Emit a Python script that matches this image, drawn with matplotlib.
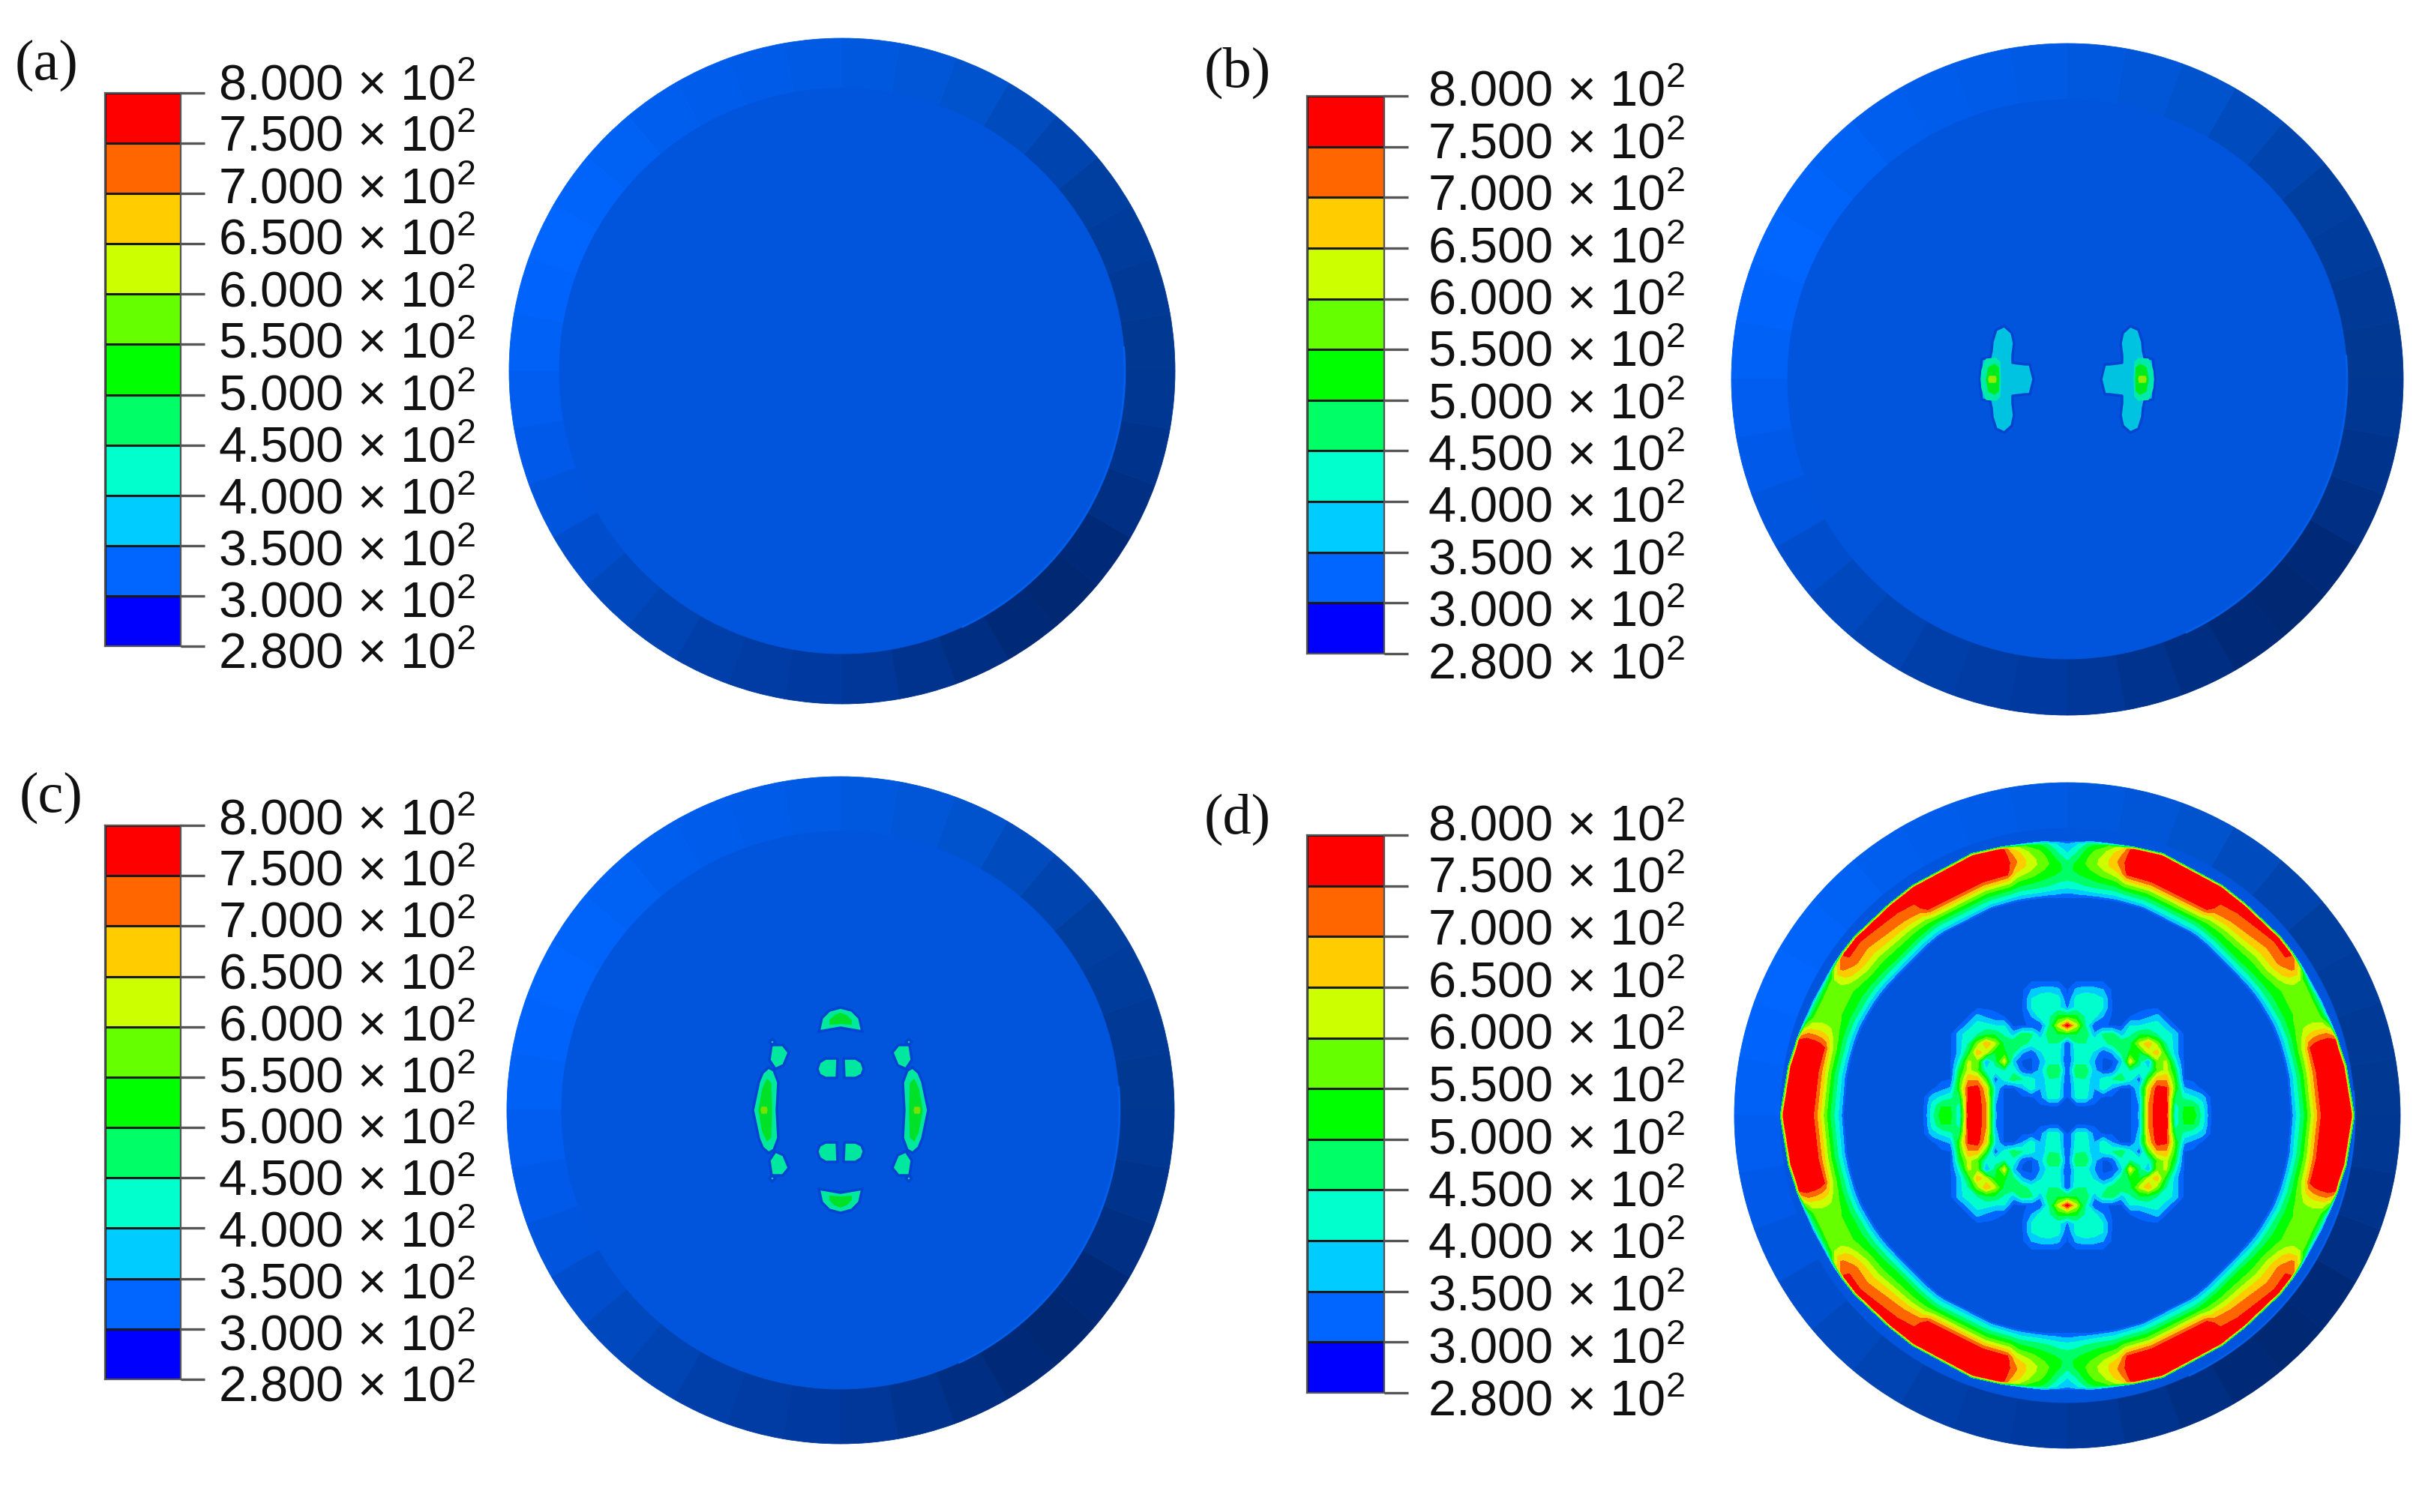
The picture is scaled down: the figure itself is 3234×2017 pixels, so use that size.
import numpy as np
import matplotlib
matplotlib.use("Agg")
import matplotlib.pyplot as plt
from matplotlib.patches import Wedge, Circle, Polygon, Arc

plt.rcParams["mathtext.fontset"] = "custom"
plt.rcParams["mathtext.rm"] = "Liberation Sans"
plt.rcParams["mathtext.default"] = "rm"

W, H = 3234, 2017

#legend
legend_values = ["2.800", "3.000", "3.500", "4.000", "4.500", "5.000",
                 "5.500", "6.000", "6.500", "7.000", "7.500", "8.000"]
legend_colors = ["#0000ff", "#0066ff", "#00ccff", "#00ffcc", "#00ff66", "#00ff00",
                 "#66ff00", "#ccff00", "#ffcc00", "#ff6600", "#ff0000"]
contour_levels = [300, 350, 400, 450, 500, 550, 600, 650, 700, 750, 800]

#panel layout in image pixels
panel_names = ["(a)", "(b)", "(c)", "(d)"]
label_xy = [(20, 87), (1606, 97), (26, 1064), (1606, 1093)]
disc_xy = [(1123, 495), (2757, 506), (1121, 1481), (2757, 1488)]
disc_r = [444, 448, 445, 444]
inner_r = [377, 373, 372, 383]
bar_x = [(140, 241), (1743, 1846), (140, 241), (1743, 1846)]
bar_y = [(124, 862), (128, 872), (1101, 1840), (1114, 1858)]
#the legend texts are spaced a little wider than the ticks
text_x = [291, 1904, 291, 1904]
text_y = [(109, 868), (118, 881), (1089, 1846), (1097, 1864)]

#shaded facets of the outer rim, 10 degrees each, going counter clockwise from east
rim_rgb = [(0, 56, 146), (0, 58, 150), (0, 60, 155), (0, 62, 160), (0, 68, 175), (0, 75, 190),
           (0, 82, 205), (0, 86, 215), (0, 88, 222), (0, 90, 228), (0, 91, 232), (0, 92, 235),
           (0, 94, 238), (0, 97, 245), (0, 100, 250), (0, 102, 255), (0, 100, 252), (0, 97, 246),
           (0, 93, 240), (0, 89, 232), (0, 85, 222), (0, 78, 205), (0, 72, 190), (0, 68, 180),
           (0, 63, 170), (0, 60, 163), (0, 58, 160), (0, 55, 152), (0, 51, 142), (0, 46, 130),
           (0, 42, 120), (0, 40, 115), (0, 42, 120), (0, 47, 132), (0, 52, 140), (0, 55, 146)]
face_rgb = (0, 85, 220)

#panel b, blobs given as upper right quarter (dx, dy)
b_outline = [(45, 0), (50, 20), (56, 20), (73, 22), (73, 32), (71, 48), (74, 62), (84, 71),
             (95, 66), (100, 50), (101, 38), (103, 29), (114, 27), (117, 0)]
b_mid = [(89, 0), (90, 23), (95, 28), (108, 27), (114, 12), (115, 0)]
b_green = [(91, 0), (92, 16), (97, 20), (105, 16), (108, 0)]
b_core = [(95, 0), (96, 4), (104, 4), (105, 0)]

#panel c
c_cap = [(0, 137), (15, 133), (25, 123), (29, 105), (0, 110)]
c_cap_in = [(0, 130), (8, 127), (15, 120), (15, 114), (0, 115)]
c_rect = [(4, 69), (20, 69), (28, 64), (31, 55), (28, 47), (20, 43), (5, 43)]
c_arc = [(85, 0), (83, 37), (89, 53), (96, 57), (104, 50), (109, 38), (114, 14), (117, 0)]
c_arc_in = [(92, 0), (93, 36), (98, 41), (104, 28), (109, 0)]
c_arc_core = [(98, 0), (99, 4), (105, 4), (106, 0)]
c_small = [(69, 77), (77, 87), (92, 87), (95, 67), (87, 55), (76, 60)]
c_dot = [(87, 91), (91, 95), (95, 91), (91, 87)]

#panel d outer band, upper right quarter: rows are angles, columns go from inner to outer edge
band_theta = [0, 10, 14, 15.5, 17, 19, 21, 24, 30, 33, 36, 40, 50, 54, 56, 70, 76, 78, 82, 85, 88, 90]
band_rout = [383, 378, 375, 375, 374, 373, 372, 372, 371, 371, 371, 371, 369, 369, 370, 372, 369, 368, 367, 367, 366, 366]
band_rin = [298, 298, 298, 298, 298, 298, 298, 298, 296, 295, 294, 293, 293, 294, 294, 294, 293, 293, 292, 292, 291, 290]
band_t = [0, .05, .13, .22, .31, .4, .5, .6, .7, .85, .95, 1.0]
band_vals = [
    [290, 370, 430, 500, 590, 680, 770, 790, 790, 790, 770, 450],
    [290, 360, 430, 500, 580, 670, 760, 790, 790, 790, 770, 450],
    [290, 360, 430, 500, 570, 650, 755, 790, 790, 790, 770, 450],
    [290, 360, 430, 500, 570, 645, 755, 785, 790, 790, 770, 450],
    [290, 360, 430, 490, 555, 620, 690, 720, 730, 730, 680, 400],
    [290, 350, 420, 480, 540, 580, 620, 640, 645, 630, 560, 360],
    [290, 350, 420, 480, 530, 560, 585, 590, 590, 570, 480, 340],
    [290, 350, 420, 480, 520, 545, 560, 570, 570, 550, 450, 330],
    [290, 350, 420, 480, 510, 535, 560, 580, 600, 590, 480, 320],
    [290, 350, 420, 480, 520, 550, 590, 640, 680, 710, 640, 360],
    [295, 360, 425, 490, 525, 570, 620, 670, 710, 750, 770, 420],
    [300, 380, 430, 500, 530, 570, 620, 670, 700, 745, 775, 450],
    [300, 370, 430, 500, 540, 590, 650, 700, 730, 765, 790, 450],
    [300, 375, 430, 500, 550, 610, 680, 730, 745, 775, 790, 450],
    [300, 380, 430, 500, 575, 660, 755, 790, 790, 790, 790, 450],
    [300, 380, 440, 510, 585, 680, 770, 790, 790, 790, 790, 450],
    [300, 370, 430, 500, 575, 660, 755, 785, 790, 790, 790, 450],
    [300, 370, 420, 480, 530, 590, 650, 700, 720, 700, 650, 400],
    [300, 360, 420, 470, 510, 550, 590, 620, 620, 590, 530, 360],
    [300, 360, 410, 460, 490, 520, 545, 565, 560, 530, 480, 340],
    [300, 340, 390, 430, 460, 490, 510, 510, 480, 430, 390, 330],
    [300, 320, 380, 420, 450, 470, 480, 470, 430, 380, 350, 320],
]

#panel d centre pattern, upper right quarter, 12 px grid
core_dx = [0, 12, 24, 36, 48, 60, 72, 84, 96, 108, 120, 132, 144, 156, 168, 180, 192]
core_dy = [0, 12, 24, 36, 48, 60, 72, 84, 96, 108, 120, 132, 144, 156, 168, 180]
core_vals = [
    [290, 290, 290, 290, 290, 290, 290, 290, 360, 700, 790, 780, 400, 520, 530, 430, 295],
    [290, 290, 290, 290, 290, 290, 290, 290, 350, 700, 790, 785, 420, 500, 500, 420, 290],
    [290, 410, 420, 330, 290, 290, 290, 290, 370, 680, 790, 770, 480, 440, 410, 380, 290],
    [290, 425, 430, 350, 430, 350, 290, 290, 400, 650, 775, 760, 550, 360, 330, 290, 290],
    [290, 440, 445, 350, 430, 450, 470, 420, 310, 540, 690, 690, 530, 300, 290, 290, 290],
    [300, 490, 490, 370, 290, 310, 440, 450, 430, 410, 560, 620, 490, 290, 290, 290, 290],
    [290, 430, 430, 350, 290, 290, 370, 640, 470, 340, 580, 610, 420, 290, 290, 290, 290],
    [295, 430, 440, 390, 310, 360, 460, 510, 500, 620, 680, 500, 370, 290, 290, 290, 290],
    [290, 445, 450, 450, 430, 470, 500, 480, 610, 690, 580, 450, 380, 290, 290, 290, 290],
    [490, 500, 500, 360, 460, 480, 380, 440, 490, 490, 450, 430, 380, 290, 290, 290, 290],
    [785, 620, 450, 310, 310, 290, 290, 400, 400, 420, 430, 370, 300, 290, 290, 290, 290],
    [520, 510, 440, 420, 350, 290, 290, 300, 310, 340, 370, 300, 290, 290, 290, 290, 290],
    [340, 420, 450, 430, 400, 300, 290, 290, 290, 290, 290, 290, 290, 290, 290, 290, 290],
    [300, 420, 440, 430, 400, 290, 290, 290, 290, 290, 290, 290, 290, 290, 290, 290, 290],
    [290, 360, 380, 370, 350, 290, 290, 290, 290, 290, 290, 290, 290, 290, 290, 290, 290],
    [290, 290, 290, 290, 290, 290, 290, 290, 290, 290, 290, 290, 290, 290, 290, 290, 290],
]


def rgb(c):
    return tuple(v / 255 for v in c)


def quarter_to_half(pts):
    #close a quarter outline across the x axis
    return list(pts) + [(x, -y) for x, y in reversed(pts)]


def quarter_to_top(pts):
    #close a quarter outline across the y axis
    return list(pts) + [(-x, y) for x, y in reversed(pts)]


def add_blob(ax, pts, color, halo=False):
    for sx in (1, -1):
        xy = [(sx * x, y) for x, y in pts]
        if halo:
            ax.add_patch(Polygon(xy, closed=True, fc=color, ec=(0, 0.27, 0.82), lw=2.5, joinstyle="round"))
        else:
            ax.add_patch(Polygon(xy, closed=True, fc=color, ec=color, lw=1, joinstyle="round"))


def flip_y(pts):
    return [(x, -y) for x, y in pts]


def draw_colorbar(i):
    x0, x1 = bar_x[i]
    y0, y1 = bar_y[i]
    ax = fig.add_axes([x0 / W, 1 - y1 / H, (x1 - x0) / W, (y1 - y0) / H])
    pos = np.arange(len(legend_colors))
    ax.bar(np.zeros(len(pos)), np.ones(len(pos)), bottom=pos, width=1, align="center",
           color=legend_colors, edgecolor="#1a1a1a", linewidth=2.2)
    ax.set_xlim(-0.5, 0.5)
    ax.set_ylim(0, len(legend_colors))
    ax.set_xticks([])
    ax.yaxis.tick_right()
    ax.set_yticks(np.arange(len(legend_values)))
    ax.set_yticklabels([])
    ax.tick_params(axis="y", length=23, width=2.4, color="#555555")
    for s in ax.spines.values():
        s.set_color("#555555")
        s.set_linewidth(1.6)
    #24 px takes the text centre down to its baseline
    ys = np.linspace(text_y[i][1], text_y[i][0], len(legend_values))
    for v, y in zip(legend_values, ys):
        fig.text(text_x[i] / W, 1 - (y + 24) / H, v + " × 10$^{2}$", fontsize=48,
                 family="Liberation Sans", color="#111111", va="baseline", ha="left")


def draw_disc(i):
    cx, cy = disc_xy[i]
    span = 470
    ax = fig.add_axes([(cx - span) / W, 1 - (cy + span) / H, 2 * span / W, 2 * span / H])
    ax.set_xlim(-span, span)
    ax.set_ylim(-span, span)
    ax.set_aspect("equal")
    ax.axis("off")
    R = disc_r[i]
    step = 360 / len(rim_rgb)
    for k, c in enumerate(rim_rgb):
        ax.add_patch(Wedge((0, 0), R, k * step, (k + 1) * step, fc=rgb(c), ec=rgb(c), lw=0.6))
    ax.add_patch(Circle((0, 0), inner_r[i], fc=rgb(face_rgb), ec=rgb(face_rgb), lw=0.6))
    ax.add_patch(Arc((0, 0), 2 * inner_r[i], 2 * inner_r[i], theta1=-65, theta2=5,
                     color=rgb((0, 95, 235)), lw=2))
    return ax


def full_band():
    th = np.array(band_theta, dtype=float)
    vals = np.array(band_vals, dtype=float)
    rin = np.array(band_rin, dtype=float)
    rout = np.array(band_rout, dtype=float)
    #mirror the quarter all the way round
    theta = np.r_[th, 180 - th[-2::-1], 180 + th[1:], 360 - th[-2::-1]]
    V = np.vstack([vals, vals[-2::-1], vals[1:], vals[-2::-1]])
    r0 = np.r_[rin, rin[-2::-1], rin[1:], rin[-2::-1]]
    r1 = np.r_[rout, rout[-2::-1], rout[1:], rout[-2::-1]]
    T = np.radians(theta)[:, None]
    r = r0[:, None] + np.array(band_t)[None, :] * (r1 - r0)[:, None]
    return r * np.cos(T), r * np.sin(T), V


def full_core():
    dx = np.array(core_dx, dtype=float)
    dy = np.array(core_dy, dtype=float)
    q = np.array(core_vals, dtype=float)
    x = np.r_[-dx[:0:-1], dx]
    y = np.r_[-dy[:0:-1], dy]
    right = np.hstack([q[:, :0:-1], q])
    V = np.vstack([right[:0:-1], right])
    return x, y, V


fig = plt.figure(figsize=(W / 100, H / 100), dpi=100, facecolor="white")

for i in range(4):
    draw_colorbar(i)
    fig.text(label_xy[i][0] / W, 1 - label_xy[i][1] / H, panel_names[i], fontsize=55,
             family="Liberation Serif", va="center", ha="left", color="#111111")

draw_disc(0)

#panel b
ax = draw_disc(1)
add_blob(ax, quarter_to_half(b_outline), rgb((0, 195, 225)), halo=True)
add_blob(ax, quarter_to_half(b_mid), rgb((0, 235, 170)))
add_blob(ax, quarter_to_half(b_green), rgb((0, 235, 30)))
add_blob(ax, quarter_to_half(b_core), rgb((150, 235, 0)))

#panel c
ax = draw_disc(2)
c_col = rgb((0, 232, 160))
for top in (c_cap, flip_y(c_cap)):
    ax.add_patch(Polygon(quarter_to_top(top), closed=True, fc=c_col, ec=(0, 0.27, 0.82), lw=2.5))
for top in (c_cap_in, flip_y(c_cap_in)):
    ax.add_patch(Polygon(quarter_to_top(top), closed=True, fc=rgb((0, 225, 40)), ec="none"))
for shape in (c_rect, c_small, c_dot):
    add_blob(ax, shape, c_col, halo=True)
    add_blob(ax, flip_y(shape), c_col, halo=True)
add_blob(ax, quarter_to_half(c_arc), c_col, halo=True)
add_blob(ax, quarter_to_half(c_arc_in), rgb((0, 225, 40)))
add_blob(ax, quarter_to_half(c_arc_core), rgb((120, 225, 0)))

#panel d
ax = draw_disc(3)
bx, by, bv = full_band()
ax.contourf(bx, by, bv, levels=contour_levels, colors=legend_colors[1:])
cx_, cy_, cv = full_core()
ax.contourf(cx_, cy_, cv, levels=contour_levels, colors=legend_colors[1:])

fig.savefig("out.png", dpi=100, facecolor="white")
